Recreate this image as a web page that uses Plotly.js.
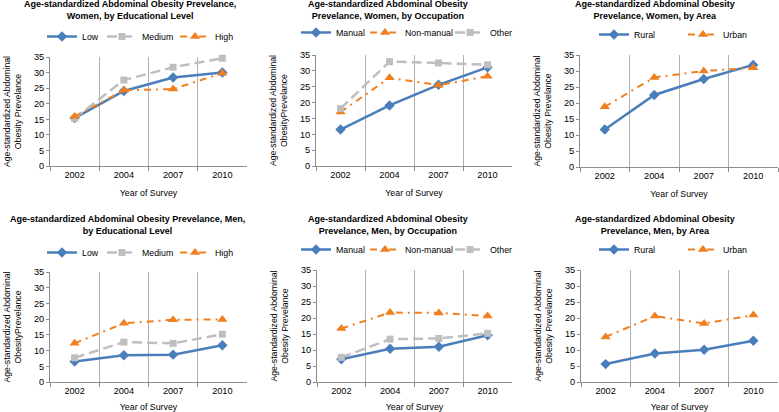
<!DOCTYPE html>
<html>
<head>
<meta charset="utf-8">
<script src="https://cdn.plot.ly/plotly-3.0.1.min.js"></script>
<style>html,body{margin:0;padding:0;background:#fff;}#chart{width:779px;height:412px;}</style>
</head>
<body>
<div id="chart"></div>
<script>
// Categories
const years = ["2002", "2004", "2007", "2010"];

// Women, by educational level
const womenEduLow = [15.4, 24.1, 28.4, 30.0];
const womenEduMedium = [15.3, 27.6, 31.7, 34.6];
const womenEduHigh = [15.9, 24.3, 24.7, 29.8];

// Women, by occupation
const womenOccManual = [11.5, 19.1, 25.6, 31.1];
const womenOccNonManual = [17.0, 27.8, 25.5, 28.3];
const womenOccOther = [18.1, 32.9, 32.5, 31.9];

// Women, by area
const womenAreaRural = [11.7, 22.5, 27.5, 31.9];
const womenAreaUrban = [18.8, 28.0, 30.0, 31.0];

// Men, by educational level
const menEduLow = [6.5, 8.5, 8.7, 11.7];
const menEduMedium = [7.7, 12.7, 12.3, 15.2];
const menEduHigh = [12.3, 18.7, 19.8, 19.9];

// Men, by occupation
const menOccManual = [7.1, 10.4, 11.0, 14.6];
const menOccNonManual = [16.7, 21.7, 21.6, 20.6];
const menOccOther = [7.7, 13.4, 13.6, 15.2];

// Men, by area
const menAreaRural = [5.6, 8.9, 10.1, 12.9];
const menAreaUrban = [14.1, 20.6, 18.3, 20.9];

// Texts
const panelTitles = [
  "Age-standardized Abdominal Obesity Prevelance,<br>Women, by Educational Level",
  "Age-standardized Abdominal Obesity<br>Prevelance, Women, by Occupation",
  "Age-standardized Abdominal Obesity<br>Prevelance, Women, by Area",
  "Age-standardized Abdominal Obesity Prevelance, Men,<br>by Educational Level",
  "Age-standardized Abdominal Obesity<br>Prevelance, Men, by Occupation",
  "Age-standardized Abdominal Obesity<br>Prevelance, Men, by Area"
];
const yTitles = [
  "Age-standardized Abdominal<br>Obesity Prevelance",
  "Age-standardized Abdominal<br>ObesityPrevelance",
  "Age-standardized Abdominal<br>Obesity Prevelance",
  "Age-standardized Abdominal<br>ObesityPrevelance",
  "Age-standardized Abdominal<br>Obesity Prevelance",
  "Age-standardized Abdominal<br>Obesity Prevelance"
];
const xTitle = "Year of Survey";
const yTickVals = [0, 5, 10, 15, 20, 25, 30, 35];

// Styles
const FONT = "Liberation Sans, Arial, sans-serif";
const BLUE = "#4A7EBB";
const GREY = "#BFBFBF";
const ORANGE = "#F07F1E";
const styles = {
  blue: {line: {color: BLUE, width: 2.5, dash: "solid"}, marker: {symbol: "diamond", size: 8, color: BLUE}},
  grey: {line: {color: GREY, width: 2.5, dash: "10px,5px"}, marker: {symbol: "square", size: 7, color: GREY}},
  orange: {line: {color: ORANGE, width: 2, dash: "7px,5px,2px,5px"}, marker: {symbol: "triangle-up", size: 9, color: ORANGE}}
};

// legend entry widths (spacing of the legend items)
const panels = [
  {series: [["Low", womenEduLow, "blue", 15], ["Medium", womenEduMedium, "grey", 28], ["High", womenEduHigh, "orange", 30]]},
  {series: [["Manual", womenOccManual, "blue", 24], ["Non-manual", womenOccNonManual, "orange", 40], ["Other", womenOccOther, "grey", 30]]},
  {series: [["Rural", womenAreaRural, "blue", 44], ["Urban", womenAreaUrban, "orange", 30]]},
  {series: [["Low", menEduLow, "blue", 15], ["Medium", menEduMedium, "grey", 28], ["High", menEduHigh, "orange", 30]]},
  {series: [["Manual", menOccManual, "blue", 24], ["Non-manual", menOccNonManual, "orange", 40], ["Other", menOccOther, "grey", 30]]},
  {series: [["Rural", menAreaRural, "blue", 44], ["Urban", menAreaUrban, "orange", 30]]}
];

const W = 779, H = 412;
// plot boxes in pixels [x0, x1, yTop, yBottom]
const boxes = [
  [50, 247, 57, 166],
  [316, 512, 55, 166],
  [580, 778, 55, 167],
  [50, 247, 272, 382],
  [317, 512, 270, 382],
  [581, 778, 270, 382]
];
const titleY = [9.5, 10, 10, 224.5, 225, 225];
const titleX = [130, 388, 655, 127, 388, 655];
const legendPos = [[42, 22], [296, 18], [594, 20], [42, 238], [296, 235], [594, 235]];

const traces = [];
const layout = {
  width: W, height: H,
  margin: {l: 0, r: 0, t: 0, b: 0},
  paper_bgcolor: "#fff", plot_bgcolor: "#fff",
  font: {family: FONT, size: 9, color: "#000"},
  annotations: [],
  showlegend: true
};

panels.forEach((p, i) => {
  const n = i + 1;
  const xa = "x" + (n === 1 ? "" : n);
  const ya = "y" + (n === 1 ? "" : n);
  const lg = "legend" + (n === 1 ? "" : n);
  p.series.forEach(([name, vals, st, lw]) => {
    traces.push({
      type: "scatter", mode: "lines+markers",
      x: years, y: vals, name: name,
      xaxis: xa, yaxis: ya, legend: lg, legendwidth: lw,
      line: styles[st].line, marker: styles[st].marker,
      cliponaxis: false
    });
  });
  const b = boxes[i];
  layout["xaxis" + (n === 1 ? "" : n)] = {
    domain: [b[0] / W, b[1] / W], anchor: ya,
    type: "category", tickson: "boundaries",
    showgrid: true, gridcolor: "#B0B0B0", gridwidth: 1,
    showline: true, linecolor: "#8C8C8C", linewidth: 1,
    ticks: "outside", ticklen: 4, tickcolor: "#8C8C8C",
    tickfont: {family: FONT, size: 9.2, color: "#000"},
    title: {text: xTitle, font: {family: FONT, size: 8.8, color: "#000"}, standoff: 10},
    range: [-0.5, 3.5], fixedrange: true, zeroline: false
  };
  layout["yaxis" + (n === 1 ? "" : n)] = {
    domain: [1 - b[3] / H, 1 - b[2] / H], anchor: xa,
    range: [0, 35], tickvals: yTickVals,
    showgrid: false, zeroline: false,
    showline: true, linecolor: "#8C8C8C", linewidth: 1,
    ticks: "outside", ticklen: 3, tickcolor: "#8C8C8C",
    tickfont: {family: FONT, size: 9.2, color: "#000"},
    title: {text: yTitles[i], font: {family: FONT, size: 8.7, color: "#000"}, standoff: 10},
    fixedrange: true
  };
  const lp = legendPos[i];
  layout[lg] = {
    x: lp[0] / W, y: 1 - lp[1] / H, xanchor: "left", yanchor: "top",
    orientation: "h", bgcolor: "rgba(0,0,0,0)",
    font: {family: FONT, size: 8.8, color: "#000"},
    itemwidth: 30, tracegroupgap: 0, traceorder: "normal"
  };
  layout.annotations.push({
    text: "<b>" + panelTitles[i] + "</b>",
    xref: "paper", yref: "paper",
    x: titleX[i] / W, y: 1 - titleY[i] / H, xanchor: "center", yanchor: "middle",
    showarrow: false, align: "center",
    font: {family: FONT, size: 9, color: "#000"}
  });
});

Plotly.newPlot("chart", traces, layout, {displayModeBar: false, staticPlot: true});
</script>
</body>
</html>
